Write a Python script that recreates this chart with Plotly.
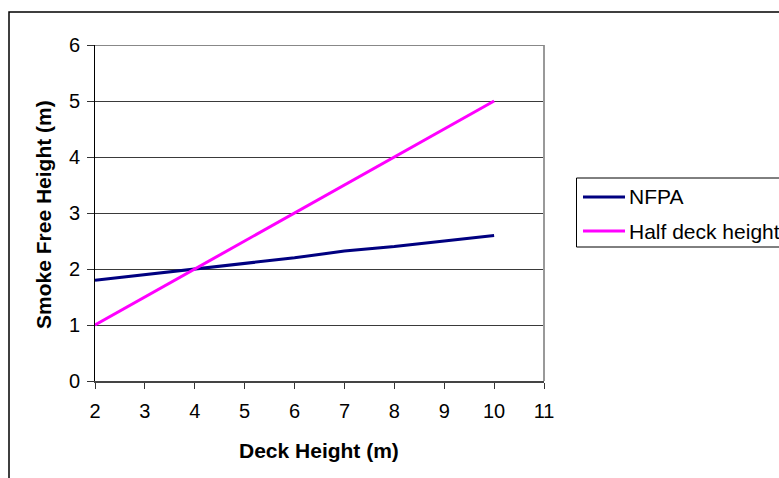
import plotly.graph_objects as go

# Deck heights (m) and smoke-free heights (m)
deck_height = [2, 3, 4, 5, 6, 7, 8, 9, 10]
nfpa = [1.8, 1.9, 2.0, 2.1, 2.2, 2.32, 2.4, 2.5, 2.6]
half_deck = [1.0, 1.5, 2.0, 2.5, 3.0, 3.5, 4.0, 4.5, 5.0]

series_names = ["NFPA", "Half deck height"]
series_colors = ["#000080", "#FF00FF"]

x_ticks = [2, 3, 4, 5, 6, 7, 8, 9, 10, 11]
y_ticks = [0, 1, 2, 3, 4, 5, 6]

FONT = "Liberation Sans, Arial, sans-serif"

fig = go.Figure()
for name, ys, col in zip(series_names, [nfpa, half_deck], series_colors):
    fig.add_trace(go.Scatter(x=deck_height, y=ys, mode="lines", name=name,
                             line=dict(color=col, width=3), showlegend=False))

W, H = 779, 478
L, R, T, B = 95, 544, 45, 381

def px_to_paper_x(px):
    return (px - L) / (R - L)

def px_to_paper_y(py):
    return (B - py) / (B - T)

shapes = [
    # chart-area border
    dict(type="rect", xref="paper", yref="paper",
         x0=px_to_paper_x(9), y0=px_to_paper_y(600), x1=px_to_paper_x(900), y1=px_to_paper_y(12),
         line=dict(color="black", width=1.5), layer="below"),
    # plot-area right edge
    dict(type="line", xref="paper", yref="paper", x0=1, x1=1, y0=0, y1=1,
         line=dict(color="#999", width=2)),
    # top gridline in grey
    dict(type="line", xref="paper", yref="y", x0=0, x1=1, y0=6, y1=6,
         line=dict(color="#888", width=2)),
    # legend box
    dict(type="rect", xref="paper", yref="paper",
         x0=px_to_paper_x(576.5), y0=px_to_paper_y(247), x1=px_to_paper_x(900), y1=px_to_paper_y(178),
         line=dict(color="black", width=1), fillcolor="white"),
]
annotations = [
    dict(text="<b>Deck Height (m)</b>", xref="paper", yref="paper",
         x=px_to_paper_x(319), y=px_to_paper_y(450), showarrow=False,
         xanchor="center", yanchor="middle", font=dict(size=21)),
    dict(text="<b>Smoke Free Height (m)</b>", xref="paper", yref="paper",
         x=px_to_paper_x(43), y=px_to_paper_y(215), showarrow=False, textangle=-90,
         xanchor="center", yanchor="middle", font=dict(size=21)),
]

# legend entries
for i, (name, col) in enumerate(zip(series_names, series_colors)):
    yy = px_to_paper_y(197 + 34 * i)
    shapes.append(dict(type="line", xref="paper", yref="paper",
                       x0=px_to_paper_x(583), x1=px_to_paper_x(625), y0=yy, y1=yy,
                       line=dict(color=col, width=3)))
    annotations.append(dict(text=name, xref="paper", yref="paper",
                            x=px_to_paper_x(627), y=yy, showarrow=False,
                            xanchor="left", yanchor="middle", font=dict(size=21)))

fig.update_layout(
    width=W, height=H,
    margin=dict(l=L, r=W - R, t=T, b=H - B),
    paper_bgcolor="white", plot_bgcolor="white",
    font=dict(family=FONT, size=20, color="black"),
    showlegend=False,
    xaxis=dict(
        range=[2, 11], tickvals=x_ticks, showgrid=False, zeroline=False,
        showline=True, linecolor="#444", linewidth=2,
        ticks="outside", ticklen=6, tickcolor="#333", tickwidth=1,
        tickfont=dict(size=20), ticklabelstandoff=5,
    ),
    yaxis=dict(
        range=[0, 6], tickvals=y_ticks, showgrid=True, gridcolor="#3a3a3a", gridwidth=1,
        zeroline=False, showline=True, linecolor="black", linewidth=1,
        ticks="outside", ticklen=7, tickcolor="#333", tickwidth=1,
        tickfont=dict(size=20), ticklabelstandoff=3,
    ),
    annotations=annotations,
    shapes=shapes,
)

fig.write_html("out.html")
